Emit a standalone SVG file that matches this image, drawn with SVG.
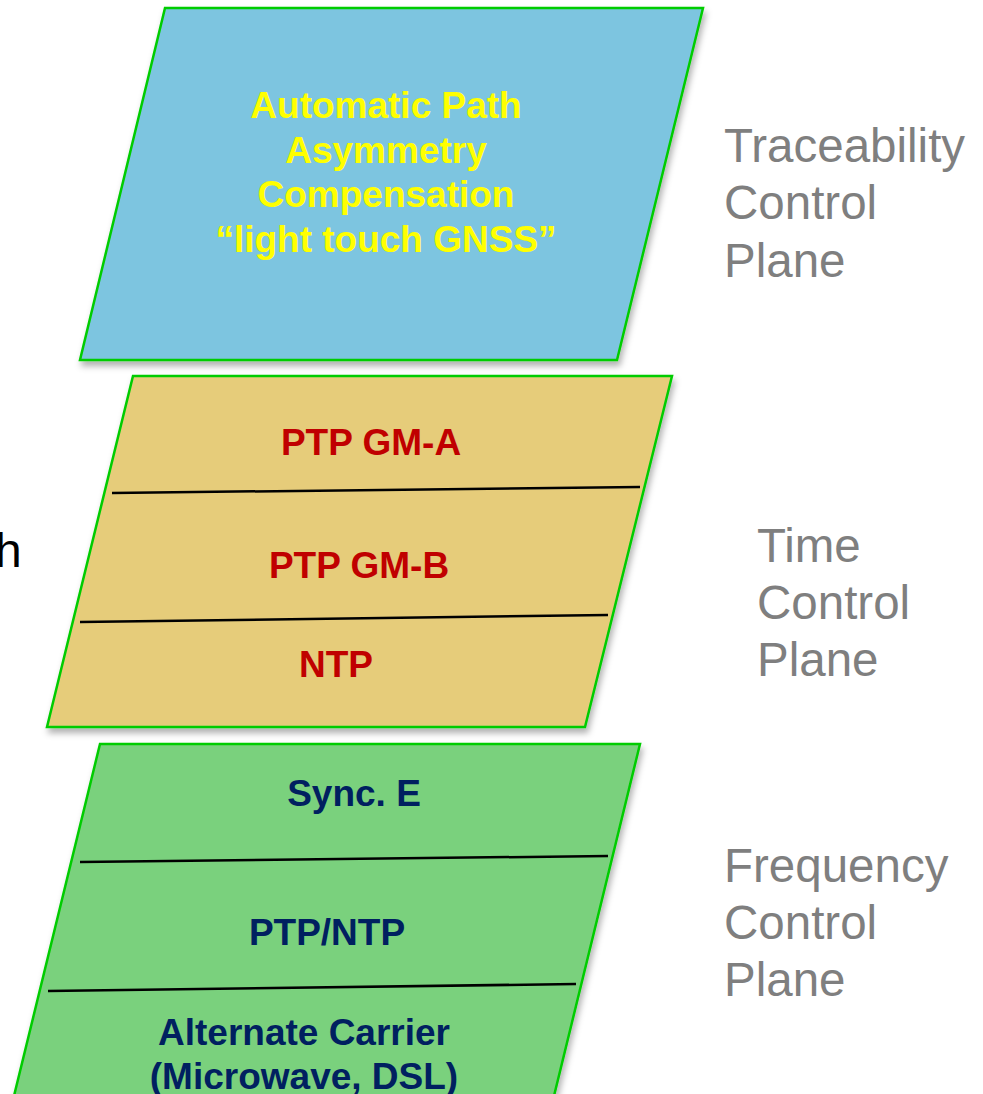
<svg xmlns="http://www.w3.org/2000/svg" width="983" height="1094" viewBox="0 0 983 1094">
<style>
.plane{stroke:#00CC00;stroke-width:2.5;stroke-linejoin:miter}
.div{stroke:#000;stroke-width:2.5;fill:none}
.b{font-family:"Liberation Sans",Arial,sans-serif;font-weight:bold;font-size:37px;text-anchor:middle}
.lab{font-family:"Liberation Sans",Arial,sans-serif;font-size:47.5px;fill:#7F7F7F}
</style>
<defs>
<filter id="sh" x="-10%" y="-10%" width="120%" height="120%">
<feDropShadow dx="2" dy="5" stdDeviation="3" flood-color="#000" flood-opacity="0.3"/>
</filter>
</defs>
<rect width="983" height="1094" fill="#fff"/>
<text x="-5" y="567" font-family="Liberation Sans,Arial,sans-serif" font-size="48" fill="#000">h</text>
<g id="traceability">
<polygon class="plane" points="165,8 703,8 617,360 80,360" fill="#7DC5E0" filter="url(#sh)"/>
<g class="b" fill="#FFFF00">
<text x="386" y="118">Automatic Path</text>
<text x="386" y="163">Asymmetry</text>
<text x="386" y="207">Compensation</text>
<text x="386" y="252">“light touch GNSS”</text>
</g>
</g>
<g id="time">
<polygon class="plane" points="133,376 672,376 585,727 47,727" fill="#E6CC7A" filter="url(#sh)"/>
<line class="div" x1="112" y1="493" x2="640" y2="487"/>
<line class="div" x1="80" y1="622" x2="608" y2="615"/>
<g class="b" fill="#C00000">
<text x="371" y="455">PTP GM-A</text>
<text x="359" y="578">PTP GM-B</text>
<text x="336" y="677">NTP</text>
</g>
</g>
<g id="frequency">
<polygon class="plane" points="100,744 640,744 553,1100 13,1100" fill="#7AD17D" filter="url(#sh)"/>
<line class="div" x1="80" y1="862" x2="608" y2="856"/>
<line class="div" x1="48" y1="991" x2="576" y2="984"/>
<g class="b" fill="#002060">
<text x="354" y="806">Sync. E</text>
<text x="327" y="945">PTP/NTP</text>
<text x="304" y="1045">Alternate Carrier</text>
<text x="304" y="1089">(Microwave, DSL)</text>
</g>
</g>
<g id="labels" class="lab">
<text x="724" y="162">Traceability</text>
<text x="724" y="219">Control</text>
<text x="724" y="277">Plane</text>
<text x="757" y="562">Time</text>
<text x="757" y="619">Control</text>
<text x="757" y="676">Plane</text>
<text x="724" y="882">Frequency</text>
<text x="724" y="939">Control</text>
<text x="724" y="996">Plane</text>
</g>
<g id="connectors"/>
</svg>
